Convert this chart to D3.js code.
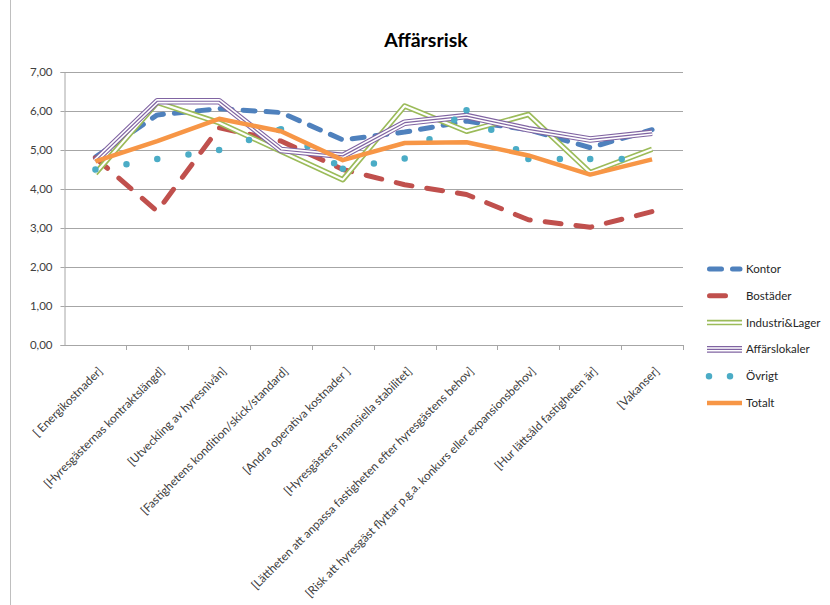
<!DOCTYPE html>
<html>
<head>
<meta charset="utf-8">
<script src="https://cdn.jsdelivr.net/npm/d3@7"></script>
<style>
  html, body { margin: 0; padding: 0; background: #fff; }
  svg { display: block; font-family: Lato, "Open Sans", sans-serif; }
</style>
</head>
<body>
<svg id="chart" width="830" height="605"></svg>
<script>
// Categories (x axis) and the scores per property segment
const categories = [
  "[ Energikostnader]",
  "[Hyresgästernas kontraktslängd]",
  "[Utveckling av hyresnivån]",
  "[Fastighetens kondition/skick/standard]",
  "[Andra operativa kostnader ]",
  "[Hyresgästers finansiella stabilitet]",
  "[Lättheten att anpassa fastigheten efter hyresgästens behov]",
  "[Risk att hyresgäst flyttar p.g.a. konkurs eller expansionsbehov]",
  "[Hur lättsåld fastigheten är]",
  "[Vakanser]"
];

const kontor        = [4.82, 5.90, 6.06, 5.96, 5.26, 5.46, 5.74, 5.52, 5.06, 5.52];
const bostader      = [4.80, 3.43, 5.57, 5.23, 4.50, 4.11, 3.86, 3.21, 3.02, 3.42];
const industriLager = [4.40, 6.22, 5.70, 4.97, 4.24, 6.13, 5.48, 5.91, 4.42, 5.02];
const affarslokaler = [4.72, 6.25, 6.25, 5.00, 4.85, 5.70, 5.87, 5.53, 5.27, 5.44];
const ovrigt        = [4.50, 4.77, 5.00, 5.53, 4.52, 4.78, 6.02, 4.77, 4.77, 4.77];
const totalt        = [4.71, 5.23, 5.80, 5.48, 4.74, 5.18, 5.20, 4.86, 4.37, 4.76];

const seriesNames = ["Kontor", "Bostäder", "Industri&Lager", "Affärslokaler", "Övrigt", "Totalt"];
const yTicks = [0, 1, 2, 3, 4, 5, 6, 7];
const title = "Affärsrisk";

const series = [
  { name: seriesNames[0], values: kontor,        color: "#4F81BD", kind: "dashShort" },
  { name: seriesNames[1], values: bostader,      color: "#C0504D", kind: "dashLong" },
  { name: seriesNames[2], values: industriLager, color: "#9BBB59", kind: "double" },
  { name: seriesNames[3], values: affarslokaler, color: "#8064A2", kind: "triple" },
  { name: seriesNames[4], values: ovrigt,        color: "#4BACC6", kind: "dots" },
  { name: seriesNames[5], values: totalt,        color: "#F79646", kind: "solid" }
];

const svg = d3.select("#chart");
const plot = { left: 64.5, right: 683, top: 72, bottom: 345 };

// outer chart frame edge
svg.append("line")
  .attr("x1", 10.5).attr("x2", 10.5).attr("y1", 0).attr("y2", 605)
  .attr("stroke", "#BFBFBF").attr("stroke-width", 1);

const x = d3.scaleBand().domain(categories).range([plot.left, plot.right]).paddingInner(0).paddingOuter(0);
const y = d3.scaleLinear().domain([0, 7]).range([plot.bottom, plot.top]);
const cx = c => x(c) + x.bandwidth() / 2;

// title
svg.append("text")
  .attr("x", 426).attr("y", 47)
  .attr("text-anchor", "middle")
  .attr("font-size", 19.5).attr("font-weight", "bold")
  .attr("fill", "#000")
  .text(title);

// horizontal gridlines
svg.append("g").selectAll("line")
  .data(yTicks.filter(d => d > 0))
  .join("line")
  .attr("x1", plot.left).attr("x2", plot.right)
  .attr("y1", d => Math.round(y(d)) + 0.5).attr("y2", d => Math.round(y(d)) + 0.5)
  .attr("stroke", "#A6A6A6").attr("stroke-width", 1);

// y axis
const yAxis = d3.axisLeft(y)
  .tickValues(yTicks)
  .tickSize(4)
  .tickPadding(8)
  .tickFormat(d => d3.format(".2f")(d).replace(".", ","));
const gy = svg.append("g")
  .attr("transform", `translate(${plot.left},0)`)
  .call(yAxis);
gy.select(".domain").attr("stroke", "#A6A6A6");
gy.selectAll(".tick line").attr("stroke", "#A6A6A6");
gy.selectAll(".tick text")
  .attr("font-family", "Lato, sans-serif")
  .attr("font-size", 11.5).attr("fill", "#404040");

// x axis: baseline with ticks at category boundaries
const gx = svg.append("g");
gx.append("line")
  .attr("x1", plot.left).attr("x2", plot.right)
  .attr("y1", plot.bottom + 0.5).attr("y2", plot.bottom + 0.5)
  .attr("stroke", "#A6A6A6");
gx.selectAll("line.tk")
  .data(categories)
  .join("line")
  .attr("class", "tk")
  .attr("x1", d => Math.round(x(d) + x.bandwidth()) + 0.5)
  .attr("x2", d => Math.round(x(d) + x.bandwidth()) + 0.5)
  .attr("y1", plot.bottom).attr("y2", plot.bottom + 5)
  .attr("stroke", "#A6A6A6");
gx.selectAll("text")
  .data(categories)
  .join("text")
  .attr("transform", d => `translate(${cx(d) + 5},${plot.bottom + 24}) rotate(-45)`)
  .attr("text-anchor", "end")
  .attr("dy", "0.35em")
  .attr("font-size", 11.7)
  .attr("fill", "#404040")
  .text(d => d);

const line = d3.line().x(d => d[0]).y(d => d[1]);

function drawStroke(g, pts, s, dotGap = 31.5) {
  const d = line(pts);
  const base = () => g.append("path").attr("d", d).attr("fill", "none")
    .attr("stroke-linejoin", "round");
  switch (s.kind) {
    case "dashShort":
      base().attr("stroke", s.color).attr("stroke-width", 5)
        .attr("stroke-linecap", "round").attr("stroke-dasharray", "12 11");
      break;
    case "dashLong":
      base().attr("stroke", s.color).attr("stroke-width", 5)
        .attr("stroke-linecap", "round").attr("stroke-dasharray", "16 15");
      break;
    case "double":
      base().attr("stroke", s.color).attr("stroke-width", 5.5);
      base().attr("stroke", "#fff").attr("stroke-width", 2.2);
      break;
    case "triple":
      base().attr("stroke", s.color).attr("stroke-width", 6.6);
      base().attr("stroke", "#fff").attr("stroke-width", 4.4);
      base().attr("stroke", s.color).attr("stroke-width", 1.2);
      break;
    case "solid":
      base().attr("stroke", s.color).attr("stroke-width", 4.5);
      break;
    case "dots":
      // the dot pattern restarts at every vertex
      for (let i = 0; i < pts.length - 1; i++) {
        g.append("path").attr("d", line([pts[i], pts[i + 1]]))
          .attr("fill", "none").attr("stroke", s.color)
          .attr("stroke-width", 6.5).attr("stroke-linecap", "round")
          .attr("stroke-dasharray", `0 ${dotGap}`);
      }
      break;
  }
}

// series lines
const gLines = svg.append("g");
series.forEach(s => {
  const pts = s.values.map((v, i) => [cx(categories[i]), y(v)]);
  drawStroke(gLines.append("g"), pts, s);
});

// legend
const legend = svg.append("g");
series.forEach((s, i) => {
  const ly = 269 + i * 26.8;
  const g = legend.append("g");
  if (s.kind === "dots") {
    drawStroke(g, [[709, ly], [731, ly]], s, 21);
  } else if (s.kind === "dashShort" || s.kind === "dashLong") {
    drawStroke(g, [[709.5, ly], [740, ly]], s);
  } else {
    drawStroke(g, [[707, ly], [742, ly]], s);
  }
  legend.append("text")
    .attr("x", 746).attr("y", ly)
    .attr("dy", "0.35em")
    .attr("font-size", 11.5).attr("fill", "#262626")
    .text(s.name);
});
</script>
</body>
</html>
